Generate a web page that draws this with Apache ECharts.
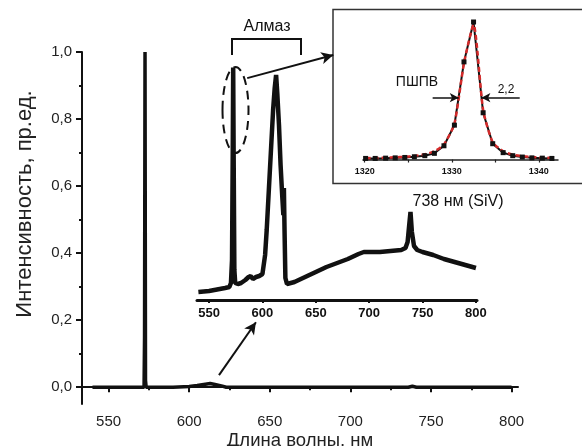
<!DOCTYPE html>
<html>
<head>
<meta charset="utf-8">
<script src="https://cdn.jsdelivr.net/npm/echarts@6/dist/echarts.min.js"></script>
<style>
html, body { margin: 0; padding: 0; background: #fff; }
#chart { width: 582px; height: 446px; }
</style>
</head>
<body>
<div id="chart"></div>
<script>
// основной спектр (нормированный)
var mainX = [540, 550, 560, 570, 572.0, 572.3, 572.6, 572.9, 573.3, 580, 590, 600, 605, 610, 613, 616, 620, 623, 650, 700, 736, 738.5, 741, 760, 800];
var mainY = [0, 0, 0, 0, 0, 0.15, 1.0, 0.02, 0, 0, 0, 0.002, 0.005, 0.009, 0.011, 0.008, 0.004, 0, 0, 0, 0, 0.003, 0, 0, 0];
var mainTicks = [550, 600, 650, 700, 750, 800];
var mainMinorTicks = [575, 625, 675, 725, 775];
var yTicks = [0, 0.2, 0.4, 0.6, 0.8, 1.0];
var yMinorTicks = [0.1, 0.3, 0.5, 0.7, 0.9];

// вставка: спектр ФЛ
var insetX = [540, 545, 550, 555, 560, 565, 569, 570.5, 571.5, 572.2, 572.6, 573.0, 573.7, 574.5, 577, 580, 584, 587, 589, 591, 594, 597, 600, 601.5, 602.5, 604, 606, 608, 610, 611.5, 612.8, 614, 615.5, 617, 618.5, 619.6, 620.1, 620.7, 621.5, 623, 630, 640, 650, 660, 670, 680, 690, 695, 700, 710, 720, 730, 734, 736, 737.5, 738.7, 740, 742, 745, 750, 760, 770, 780, 790, 800];
var insetY = [0.032, 0.034, 0.036, 0.04, 0.044, 0.048, 0.052, 0.068, 0.16, 0.6, 0.93, 0.6, 0.12, 0.068, 0.064, 0.068, 0.08, 0.092, 0.096, 0.084, 0.092, 0.096, 0.104, 0.112, 0.18, 0.28, 0.44, 0.6, 0.76, 0.848, 0.9, 0.82, 0.7, 0.54, 0.42, 0.34, 0.448, 0.28, 0.088, 0.064, 0.072, 0.092, 0.112, 0.132, 0.148, 0.164, 0.184, 0.192, 0.192, 0.192, 0.196, 0.2, 0.208, 0.232, 0.3, 0.352, 0.272, 0.216, 0.2, 0.192, 0.18, 0.164, 0.152, 0.14, 0.128];
var insetTicks = [550, 600, 650, 700, 750, 800];

// вставка: линия алмаза (КР)
var ramanX = [1320.1, 1321.2, 1322.4, 1323.5, 1324.6, 1325.7, 1326.9, 1328.0, 1329.1, 1330.3, 1331.4, 1332.5, 1333.6, 1334.7, 1335.9, 1337.0, 1338.1, 1339.2, 1340.4, 1341.5];
var ramanY = [0.008, 0.008, 0.01, 0.012, 0.015, 0.02, 0.028, 0.045, 0.1, 0.25, 0.71, 1.0, 0.34, 0.115, 0.05, 0.028, 0.018, 0.012, 0.01, 0.008];
var fitY = [0.01, 0.011, 0.013, 0.016, 0.02, 0.026, 0.038, 0.06, 0.11, 0.26, 0.7, 0.98, 0.36, 0.125, 0.06, 0.035, 0.024, 0.018, 0.014, 0.012];
var ramanTicks = [1320, 1330, 1340];
var ramanMinorTicks = [1325, 1335];

function pairs(xs, ys) {
    return xs.map(function (x, i) { return [x, ys[i]]; });
}
function comma(v) {
    return String(v).replace('.', ',');
}

var ink = '#111';
var myChart = echarts.init(document.getElementById('chart'));

var option = {
    animation: false,
    backgroundColor: '#fff',
    grid: [
        { left: 82, right: 64, top: 52, bottom: 42 },
        { left: 197, width: 280, top: 50, height: 250 },
        { left: 363, right: 24, top: 22, bottom: 284 }
    ],
    xAxis: [
        {
            gridIndex: 0, type: 'value', min: 533.5, max: 804, position: 'bottom',
            axisLine: { lineStyle: { color: ink, width: 2 } },
            axisTick: { customValues: mainTicks, length: 5, lineStyle: { color: ink, width: 2 } },
            axisLabel: { customValues: mainTicks, margin: 10, color: '#222', fontSize: 15, fontFamily: 'Liberation Sans' },
            splitLine: { show: false }
        },
        {
            gridIndex: 0, type: 'value', min: 533.5, max: 804, position: 'bottom',
            axisLine: { show: false },
            axisTick: { customValues: mainMinorTicks, length: 3, lineStyle: { color: ink, width: 2 } },
            axisLabel: { show: false },
            splitLine: { show: false }
        },
        {
            gridIndex: 1, type: 'value', min: 538.7, max: 801, position: 'bottom',
            axisLine: { lineStyle: { color: ink, width: 3 } },
            axisTick: { customValues: insetTicks, length: 3, lineStyle: { color: ink, width: 2 } },
            axisLabel: { customValues: insetTicks, margin: 7, color: ink, fontSize: 13, fontWeight: 'bold', fontFamily: 'Liberation Sans' },
            splitLine: { show: false }
        },
        {
            gridIndex: 2, type: 'value', min: 1319.8, max: 1342.2, position: 'bottom',
            axisLine: { lineStyle: { color: '#222', width: 1.5 } },
            axisTick: { customValues: ramanTicks.concat(ramanMinorTicks), length: 3, lineStyle: { color: '#222', width: 1.2 } },
            axisLabel: { customValues: ramanTicks, margin: 5, color: ink, fontSize: 9, fontWeight: 'bold', fontFamily: 'Liberation Sans',
                formatter: function (v) { return String(Math.round(v)); } },
            splitLine: { show: false }
        }
    ],
    yAxis: [
        {
            gridIndex: 0, type: 'value', min: -0.05, max: 1.0, position: 'left',
            axisLine: { show: true, lineStyle: { color: ink, width: 2 } },
            axisTick: { show: true, customValues: yTicks, length: 6, lineStyle: { color: ink, width: 2 } },
            axisLabel: { customValues: yTicks, margin: 10, color: '#222', fontSize: 15, fontFamily: 'Liberation Sans',
                formatter: function (v) { return comma(v.toFixed(1)); } },
            splitLine: { show: false }
        },
        {
            gridIndex: 0, type: 'value', min: -0.05, max: 1.0, position: 'left',
            axisLine: { show: false },
            axisTick: { show: true, customValues: yMinorTicks, length: 3, lineStyle: { color: ink, width: 2 } },
            axisLabel: { show: false },
            splitLine: { show: false }
        },
        {
            gridIndex: 1, type: 'value', min: 0, max: 1, show: false
        },
        {
            gridIndex: 2, type: 'value', min: -0.018, max: 1.0, show: false
        }
    ],
    series: [
        {
            type: 'line', xAxisIndex: 0, yAxisIndex: 0,
            data: pairs(mainX, mainY),
            showSymbol: false,
            lineStyle: { color: ink, width: 3.5 },
            markLine: {
                silent: true,
                symbol: ['none', 'arrow'],
                symbolSize: [9, 12],
                label: { show: false },
                lineStyle: { color: ink, width: 2, type: 'solid' },
                data: [
                    [{ coord: [618.5, 0.036] }, { coord: [641.4, 0.194] }],
                    [{ coord: [636.0, 0.922] }, { coord: [689.4, 0.991] }]
                ]
            }
        },
        {
            type: 'line', xAxisIndex: 2, yAxisIndex: 2,
            data: pairs(insetX, insetY),
            showSymbol: false,
            lineStyle: { color: ink, width: 4.5 }
        },
        {
            type: 'line', xAxisIndex: 3, yAxisIndex: 3,
            data: pairs(ramanX, ramanY),
            symbol: 'rect', symbolSize: 5, showSymbol: true,
            itemStyle: { color: ink },
            lineStyle: { color: ink, width: 2 },
            markLine: {
                silent: true,
                symbol: ['none', 'arrow'],
                symbolSize: [7, 9],
                label: { show: false },
                lineStyle: { color: ink, width: 1.5, type: 'solid' },
                data: [
                    [{ coord: [1327.8, 0.45] }, { coord: [1330.8, 0.45] }],
                    [{ coord: [1337.8, 0.45] }, { coord: [1333.4, 0.45] }]
                ]
            }
        },
        {
            type: 'line', xAxisIndex: 3, yAxisIndex: 3,
            data: pairs(ramanX, fitY),
            showSymbol: false,
            smooth: 0.2,
            lineStyle: { color: '#d42a2a', width: 2.5, type: [5, 3] },
            z: 3
        }
    ],
    graphic: [
        { type: 'rect', shape: { x: 333, y: 9.5, width: 260, height: 174 },
          style: { fill: 'none', stroke: '#333', lineWidth: 1.5 }, z: 1 },
        { type: 'polyline', shape: { points: [[232, 55], [232, 39], [301, 39], [301, 55]] },
          style: { fill: 'none', stroke: ink, lineWidth: 2 } },
        { type: 'ellipse', shape: { cx: 235.5, cy: 110, rx: 13, ry: 43 },
          style: { fill: 'none', stroke: ink, lineWidth: 2, lineDash: [9, 6] } },
        { type: 'text', x: 267, y: 27,
          style: { text: 'Алмаз', font: '16px "Liberation Sans", Arial', fill: ink,
                   textAlign: 'center', textVerticalAlign: 'middle', align: 'center', verticalAlign: 'middle' } },
        { type: 'text', x: 458, y: 202,
          style: { text: '738 нм (SiV)', font: '16px "Liberation Sans", Arial', fill: ink,
                   textAlign: 'center', textVerticalAlign: 'middle', align: 'center', verticalAlign: 'middle' } },
        { type: 'text', x: 417, y: 82,
          style: { text: 'ПШПВ', font: '14px "Liberation Sans", Arial', fill: ink,
                   textAlign: 'center', textVerticalAlign: 'middle', align: 'center', verticalAlign: 'middle' } },
        { type: 'text', x: 506, y: 90,
          style: { text: '2,2', font: '12px "Liberation Sans", Arial', fill: ink,
                   textAlign: 'center', textVerticalAlign: 'middle', align: 'center', verticalAlign: 'middle' } },
        { type: 'text', x: 25, y: 204, rotation: Math.PI / 2,
          style: { text: 'Интенсивность, пр.ед.', font: '22px "Liberation Sans", Arial', fill: '#222',
                   textAlign: 'center', textVerticalAlign: 'middle', align: 'center', verticalAlign: 'middle' } },
        { type: 'text', x: 300, y: 441,
          style: { text: 'Длина волны, нм', font: '18.5px "Liberation Sans", Arial', fill: '#222',
                   textAlign: 'center', textVerticalAlign: 'middle', align: 'center', verticalAlign: 'middle' } }
    ]
};
myChart.setOption(option);
</script>
</body>
</html>
